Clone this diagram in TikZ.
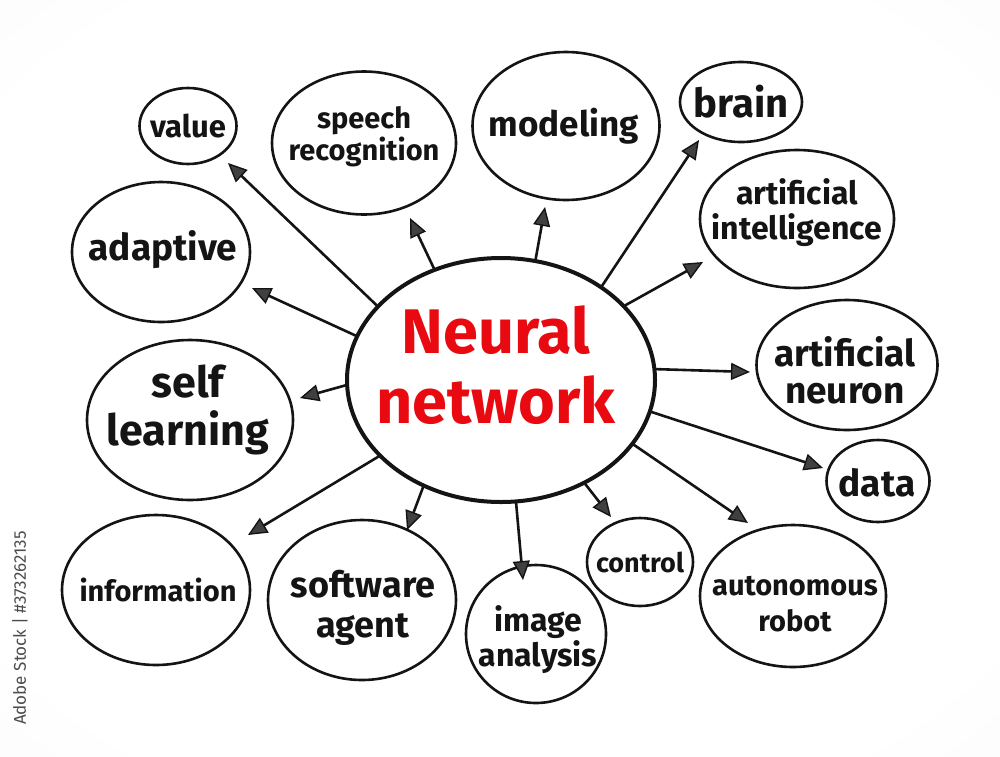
\documentclass[tikz,border=0pt]{standalone}
\usepackage{fontspec}
\setmainfont{Fira Sans}
\usetikzlibrary{shapes.geometric,arrows.meta}
\pgfdeclareradialshading{bgvig}{\pgfpoint{0bp}{0bp}}{rgb(0bp)=(1,1,1); rgb(30bp)=(1,1,1); rgb(50bp)=(0.965,0.965,0.972); rgb(71bp)=(0.93,0.93,0.945)}
\definecolor{nnred}{RGB}{232,10,16}
\definecolor{ink}{RGB}{20,20,20}
\newcommand\fsz[1]{\fontsize{#1pt}{#1pt}\selectfont\bfseries}
\begin{document}
\begin{tikzpicture}[x=1pt,y=-1pt,
  bub/.style={draw=ink, ellipse, line width=2.6pt, inner sep=0pt},
  lbl/.style={inner sep=0pt, align=center, text=ink},
  lnk/.style={draw=ink, line width=2.6pt, line cap=round, -{Triangle[length=19pt,width=17pt,fill=black!75,line width=1.4pt]}}]
\useasboundingbox (0,0) rectangle (1000,756);
\shade[shading=bgvig] (0,0) rectangle (1000,756);

% central
\node[bub, line width=4pt, minimum width=308pt, minimum height=244pt] (nn) at (501,380) {};
\node[lbl, text=nnred, font=\fsz{63}, execute at begin node={\baselineskip=70pt}] (nnT) at (496,365) {Neural\\network};

% surrounding bubbles
\node[bub, minimum width=97pt, minimum height=76pt] (v) at (188,126) {};
\node[lbl, font=\fsz{31}] (vT) at (v) {value};
\node[bub, minimum width=184pt, minimum height=143pt] (sr) at (364,143) {};
\node[lbl, font=\fsz{29}, execute at begin node={\baselineskip=32pt}] (srT) at (364,137) {speech\\recognition};
\node[bub, minimum width=187pt, minimum height=148pt] (mo) at (566,126) {};
\node[lbl, font=\fsz{35}] (moT) at (564,126) {modeling};
\node[bub, minimum width=122pt, minimum height=80pt] (br) at (741,102) {};
\node[lbl, font=\fsz{40}] (brT) at (741,102) {brain};
\node[bub, minimum width=194pt, minimum height=138pt] (ai) at (797,219) {};
\node[lbl, font=\fsz{32}, execute at begin node={\baselineskip=35pt}] (aiT) at (797,213) {artificial\\intelligence};
\node[bub, minimum width=178pt, minimum height=140pt] (ad) at (161,252) {};
\node[lbl, font=\fsz{37}] (adT) at (163,250) {adaptive};
\node[bub, minimum width=181pt, minimum height=130pt] (an) at (847,365) {};
\node[lbl, font=\fsz{37}, execute at begin node={\baselineskip=37pt}] (anT) at (845,370) {artificial\\neuron};
\node[bub, minimum width=206pt, minimum height=160pt] (sl) at (190,420) {};
\node[lbl, font=\fsz{43}, execute at begin node={\baselineskip=48pt}] (slT) at (188,410) {self\\learning};
\node[bub, minimum width=103pt, minimum height=82pt] (da) at (878,481) {};
\node[lbl, font=\fsz{37}] (daT) at (877,483) {data};
\node[bub, minimum width=188pt, minimum height=150pt] (inf) at (156,590) {};
\node[lbl, font=\fsz{29}] (infT) at (158,590) {information};
\node[bub, minimum width=188pt, minimum height=160pt] (sa) at (362,600) {};
\node[lbl, font=\fsz{36}, execute at begin node={\baselineskip=40pt}] (saT) at (363,608) {software\\agent};
\node[bub, minimum width=140pt, minimum height=138pt] (ia) at (536,634) {};
\node[lbl, font=\fsz{32}, execute at begin node={\baselineskip=35pt}] (iaT) at (538,640) {image\\analysis};
\node[bub, minimum width=106pt, minimum height=88pt] (co) at (640,562) {};
\node[lbl, font=\fsz{27}] (coT) at (640,562) {control};
\node[bub, minimum width=186pt, minimum height=142pt] (ar) at (793,596) {};
\node[lbl, font=\fsz{29}, execute at begin node={\baselineskip=36pt}] (arT) at (795,604) {autonomous\\robot};

% arrow tips (free ends)
\coordinate (t1) at (228,163);
\coordinate (t2) at (410,218);
\coordinate (t3) at (545,207);
\coordinate (t4) at (699,140);
\coordinate (t5) at (703,262);
\coordinate (t6) at (252,288);
\coordinate (t7) at (750,372);
\coordinate (t8) at (300,398);
\coordinate (t9) at (823,468);
\coordinate (t10) at (248,535);
\coordinate (t11) at (407,530);
\coordinate (t12) at (523,580);
\coordinate (t13) at (611,517);
\coordinate (t14) at (748,523);

\draw[lnk] (nn.149) -- (t1);
\draw[lnk] (nn.121) -- (t2);
\draw[lnk] (nn.74) -- (t3);
\draw[lnk] (nn.43) -- (t4);
\draw[lnk] (nn.31) -- (t5);
\draw[lnk] (nn.163) -- (t6);
\draw[lnk] (nn.4) -- (t7);
\draw[lnk] (nn.182) -- (t8);
\draw[lnk] (nn.-12) -- (t9);
\draw[lnk] (nn.212) -- (t10);
\draw[lnk] (nn.234) -- (t11);
\draw[lnk] (nn.277) -- (t12);
\draw[lnk] (nn.309) -- (t13);
\draw[lnk] (nn.334) -- (t14);

% stock id
\node[rotate=90, text=black!70, font=\fontsize{17pt}{17pt}\selectfont] (id) at (20,628) {Adobe Stock | \#373262135};
\end{tikzpicture}
\end{document}
